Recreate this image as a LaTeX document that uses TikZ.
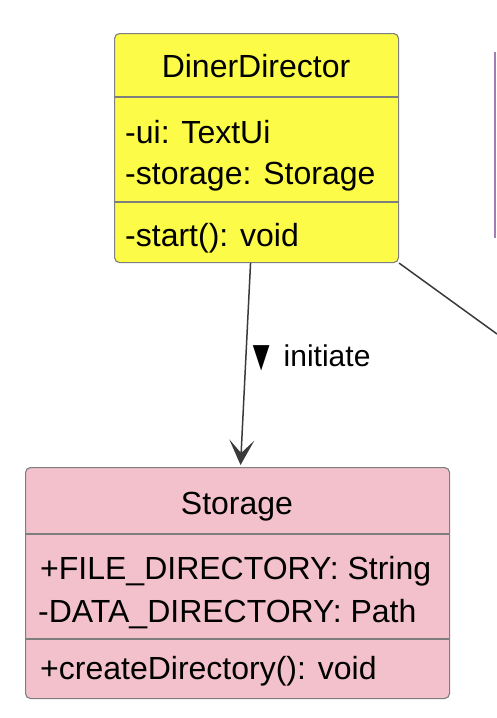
\documentclass[tikz,border=0pt]{standalone}
\usepackage{fontspec}
\setmainfont{Liberation Sans}
\usetikzlibrary{arrows.meta,calc}
\definecolor{ddyellow}{HTML}{FBFB48}
\definecolor{stpink}{HTML}{F3C1CB}
\definecolor{boxborder}{HTML}{7E7E7E}
\definecolor{edgegray}{HTML}{3A3A3A}
\definecolor{otherpurple}{HTML}{A07EB4}
\begin{document}
\begin{tikzpicture}[x=1pt,y=-1pt,
  classbox/.style={draw=boxborder, line width=1.1pt, rounded corners=5pt, inner sep=0pt, anchor=north west},
  divider/.style={draw=boxborder, line width=1.1pt},
  ctext/.style={font=\fontsize{32}{38}\selectfont, inner sep=0pt, anchor=base west},
  cname/.style={font=\fontsize{32}{38}\selectfont, inner sep=0pt, anchor=base},
  lbl/.style={font=\fontsize{30}{36}\selectfont, inner sep=0pt, anchor=base west},
  edge/.style={draw=edgegray, line width=1.5pt}
]
\useasboundingbox (0,0) rectangle (496,718);

% DinerDirector
\node[classbox, fill=ddyellow, minimum width=284pt, minimum height=229pt] (dd) at (114,33) {};
\draw[divider] (114,97) -- (398,97);
\draw[divider] (114,202) -- (398,202);
\node[cname] (ddname) at (256,77) {DinerDirector};
\node[ctext] (ddui) at (125,143) {-ui: TextUi};
\node[ctext] (ddstor) at (125,184) {-storage: Storage};
\node[ctext] (ddstart) at (125,246) {-start(): void};

% Storage
\node[classbox, fill=stpink, minimum width=424pt, minimum height=231pt] (st) at (25,467) {};
\draw[divider] (25,534) -- (449,534);
\draw[divider] (25,639) -- (449,639);
\node[cname] (stname) at (237,514) {Storage};
\node[ctext] (stfile) at (40,579) {+FILE\_DIRECTORY: String};
\node[ctext] (stdata) at (38,622) {-DATA\_DIRECTORY: Path};
\node[ctext] (stcreate) at (40,679) {+createDirectory(): void};

% other (cut-off) class edge
\coordinate (otherTop) at (495,52);
\coordinate (otherBot) at (495,238);
\draw[otherpurple, line width=1.2pt] (otherTop) -- (otherBot);

% connectors
\draw[edge, -{Stealth[length=25pt,width=25pt,inset=13pt]}] ($(dd.south)+(-6,0)$) -- ($(st.north)+(3,-2)$);
\node[lbl] (initlbl) at (247,366) {\raisebox{-4pt}{\scalebox{0.95}[1.45]{▼}} initiate};
\coordinate (offright) at (497,334);
\draw[edge] (dd.south east) -- (offright);
\end{tikzpicture}
\end{document}
